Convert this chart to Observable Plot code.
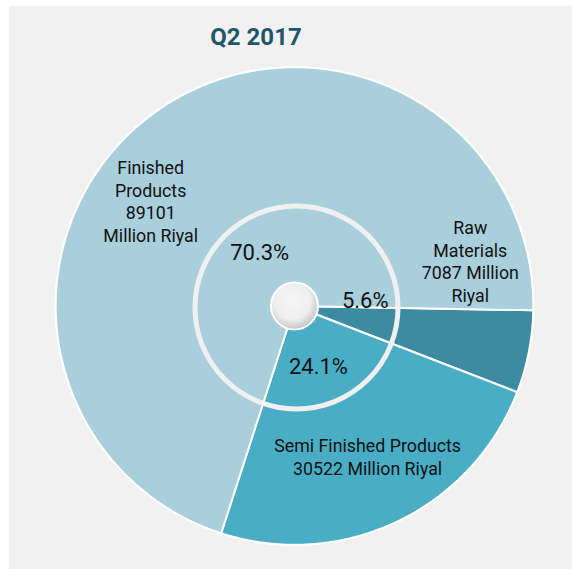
<!DOCTYPE html>
<html><head><meta charset="utf-8">
<script src="https://cdn.jsdelivr.net/npm/d3@7"></script>
<script src="https://cdn.jsdelivr.net/npm/@observablehq/plot@0.6"></script>
<style>
html,body{margin:0;padding:0;background:#fff;}
#panel{position:absolute;left:9px;top:6px;width:563px;height:563px;background:#f1f1f1;font-family:Roboto,sans-serif;overflow:hidden;}
#title{height:55px;width:494px;box-sizing:border-box;padding-top:19px;text-align:center;font-size:24px;line-height:24px;font-weight:bold;color:#1f5668;}
#chart svg{display:block;overflow:visible;}
g[aria-label="pie-shadow"]{filter:drop-shadow(0px 2px 7px rgba(0,0,0,0.6));}
</style></head><body>
<div id="panel"><div id="title">Q2 2017</div><div id="chart"></div></div>
<script>
// ---- data ----
const categories = ["Raw Materials", "Semi Finished Products", "Finished Products"];
const values = [7087, 30522, 89101];
const percents = ["5.6%", "24.1%", "70.3%"];
const labels = [
  "Raw\nMaterials\n7087 Million\nRiyal",
  "Semi Finished Products\n30522 Million Riyal",
  "Finished\nProducts\n89101\nMillion Riyal"
];
const colors = ["#3c8ba3", "#4aadc6", "#a9cfdc"];

// ---- layout / style ----
const W = 563, H = 508, cx = 285, cy = 244.5, R = 238.8;
const pctRadius = 65, nameRadius = 170;
const pctNudge = {"Raw Materials": [7, -18], "Semi Finished Products": [-4, 2], "Finished Products": [3, 0]};
const nameNudge = {"Raw Materials": [9, -78], "Semi Finished Products": [0, -3], "Finished Products": [-45, 33]};

const start = Math.PI / 2 + 0.018;
const arcs = d3.pie().sort(null).startAngle(start).endAngle(start + 2 * Math.PI)(values);
const slices = arcs.map((a, i) => ({
  name: categories[i], value: values[i], pct: percents[i], label: labels[i],
  a0: a.startAngle, a1: a.endAngle, mid: (a.startAngle + a.endAngle) / 2
}));
const pts = [];
for (const s of slices) {
  pts.push({name: s.name, x: 0, y: 0});
  const n = Math.ceil((s.a1 - s.a0) / 0.005);
  for (let k = 0; k <= n; k++) {
    const a = s.a0 + (s.a1 - s.a0) * k / n;
    pts.push({name: s.name, x: R * Math.sin(a), y: R * Math.cos(a)});
  }
}

const defs = () => {
  const g = d3.create("svg:defs");
  const rg = g.append("radialGradient").attr("id", "holeGrad").attr("cx", "45%").attr("cy", "40%").attr("r", "60%");
  rg.append("stop").attr("offset", "0%").attr("stop-color", "#f6f6f6");
  rg.append("stop").attr("offset", "65%").attr("stop-color", "#eeeeee");
  rg.append("stop").attr("offset", "100%").attr("stop-color", "#c4c4c4");
  return g.node();
};

const chart = Plot.plot({
  width: W, height: H,
  marginTop: 0, marginRight: 0, marginBottom: 0, marginLeft: 0,
  style: {background: "transparent", fontFamily: "Roboto, sans-serif", overflow: "visible"},
  x: {type: "linear", domain: [-cx, W - cx], range: [0, W], axis: null},
  y: {type: "linear", domain: [-(H - cy), cy], range: [H, 0], axis: null},
  color: {domain: categories, range: colors},
  marks: [
    defs,
    Plot.dot([{x: 0, y: 0}], {x: "x", y: "y", r: R, fill: "#a9cfdc", stroke: "white", strokeWidth: 2, ariaLabel: "pie-shadow"}),
    Plot.line(pts, {x: "x", y: "y", z: "name", fill: "name", stroke: "white", strokeWidth: 2, curve: "linear-closed", strokeLinejoin: "round"}),
    Plot.dot([{x: 2, y: -1.5}], {x: "x", y: "y", r: 101.5, fill: "none", stroke: "#f0f0f0", strokeWidth: 5}),
    Plot.dot([{x: 0, y: 0}], {x: "x", y: "y", r: 23.5, fill: "url(#holeGrad)", stroke: "white", strokeWidth: 2}),
    Plot.text(slices, {
      x: d => pctRadius * Math.sin(d.mid), y: d => pctRadius * Math.cos(d.mid),
      text: "pct", fontSize: 22, fill: "#111"
    }),
    Plot.text(slices, {
      x: d => nameRadius * Math.sin(d.mid), y: d => nameRadius * Math.cos(d.mid),
      text: "label", fontSize: 17.8, lineHeight: 1.27, fill: "#111"
    })
  ]
});
document.getElementById("chart").appendChild(chart);

// apply per-label nudges (pixel offsets) after render
const groups = chart.querySelectorAll('g[aria-label="text"]');
[[groups[0], pctNudge], [groups[1], nameNudge]].forEach(([g, nudge]) => {
  if (!g) return;
  g.querySelectorAll("text").forEach((t, i) => {
    const [dx, dy] = nudge[slices[i].name];
    const tr = t.getAttribute("transform") || "";
    t.setAttribute("transform", tr + ` translate(${dx},${dy})`);
  });
});
</script>
</body></html>
